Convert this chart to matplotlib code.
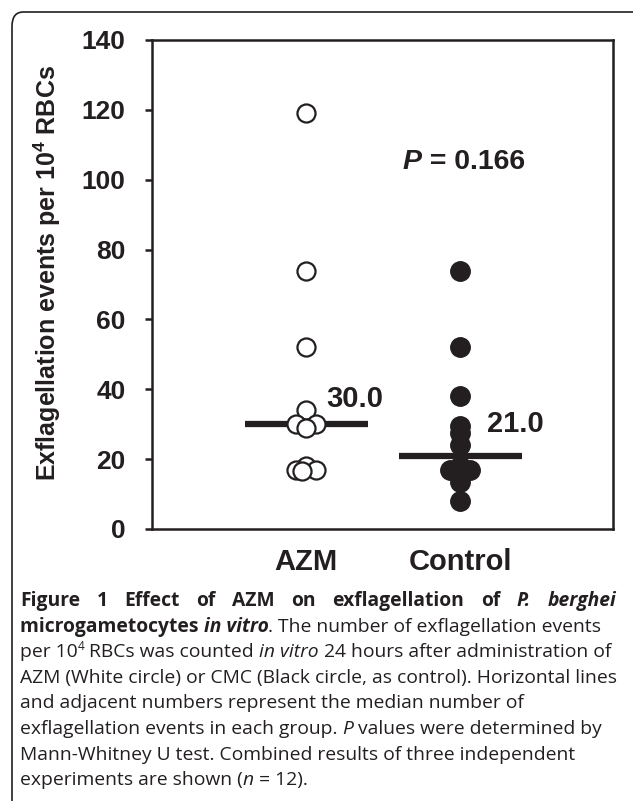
import matplotlib
matplotlib.use('Agg')
import matplotlib.pyplot as plt
from matplotlib.patches import FancyBboxPatch
from matplotlib.font_manager import FontProperties
import numpy as np

# data
groups = ['AZM', 'Control']
azm_values = [119, 74, 52, 30, 34, 30, 30, 29, 18, 17, 17, 16.5]
azm_jitter = [0, 0, 0, 0, 0, -1, 1, 0, 0, -1, 1, -0.4]
ctrl_values = [74, 52, 38, 29.5, 27.5, 24, 18, 17, 17, 16, 13.5, 8]
ctrl_jitter = [0, 0, 0, 0, 0, 0, 0, -1, 1, 0, 0, 0]
p_value = 0.166

INK = '#231f20'
W, H = 633, 801
plt.rcParams['font.family'] = 'Liberation Sans'
plt.rcParams['mathtext.fontset'] = 'custom'
plt.rcParams['mathtext.rm'] = 'Liberation Sans'
plt.rcParams['mathtext.bf'] = 'Liberation Sans:bold'

fig = plt.figure(figsize=(W / 100, H / 100), dpi=100)
ax = fig.add_axes([152 / W, 1 - 529 / H, (613 - 152) / W, (529 - 40) / H])

step = 0.065
ax.plot(np.array(azm_jitter) * step + 0, azm_values, 'o', ms=13, mfc='white',
        mec=INK, mew=1.6, ls='none', zorder=3)
ax.plot(np.array(ctrl_jitter) * step + 1, ctrl_values, 'o', ms=14, mfc=INK,
        mec=INK, mew=1, ls='none', zorder=3)

meds = [np.median(azm_values), np.median(ctrl_values)]
for i, m in enumerate(meds):
    ax.plot([i - 0.4, i + 0.4], [m, m], color=INK, lw=4.5, solid_capstyle='butt', zorder=2)
ax.text(0.13, meds[0] + 7.3, '%.1f' % meds[0], fontsize=21, fontweight='bold',
        color=INK, va='center', ha='left')
ax.text(1.17, meds[1] + 9, '%.1f' % meds[1], fontsize=21, fontweight='bold',
        color=INK, va='center', ha='left')

ax.set_xlim(-1.0, 1.99)
ax.set_ylim(0, 140)
ax.set_yticks(range(0, 141, 20))
ax.set_xticks([0, 1])
ax.set_xticklabels(groups, fontsize=21, fontweight='bold', color=INK)
for lab in ax.get_yticklabels():
    lab.set_fontweight('bold')
ax.tick_params(axis='y', direction='out', length=5, width=1.8, labelsize=19,
               pad=14, colors=INK)
ax.tick_params(axis='x', length=0, pad=14, colors=INK)
for s in ax.spines.values():
    s.set_linewidth(1.8)
    s.set_color(INK)
ax.set_ylabel(r'Exflagellation events per 10$^{\mathbf{4}}$ RBCs', fontsize=18,
              fontweight='bold', color=INK)
ax.yaxis.set_label_coords(-0.193, 0.523)

fig.canvas.draw()
rend = fig.canvas.get_renderer()


def text_w(s, prop):
    w1 = rend.get_text_width_height_descent('|' + s + '|', prop, ismath=False)[0]
    w0 = rend.get_text_width_height_descent('||', prop, ismath=False)[0]
    return w1 - w0


def draw_runs(runs, x, y, size, family, justify_to=None):
    # runs: list of (text, weight, style, sup)
    props = []
    for t, wt, st, sup in runs:
        props.append(FontProperties(family=family, weight=wt, style=st,
                                    size=size * (0.62 if sup else 1)))
    if justify_to is None:
        for (t, wt, st, sup), p in zip(runs, props):
            dy = size * 0.5 if sup else 0
            fig.text(x / W, 1 - (y - dy) / H, t, fontproperties=p, color=INK,
                     va='baseline', ha='left')
            x += text_w(t, p)
        return
    words = []
    for (t, wt, st, sup), p in zip(runs, props):
        for wd in t.split():
            words.append((wd, p))
    total = sum(text_w(wd, p) for wd, p in words)
    gap = (justify_to - x - total) / (len(words) - 1)
    for wd, p in words:
        fig.text(x / W, 1 - y / H, wd, fontproperties=p, color=INK,
                 va='baseline', ha='left')
        x += text_w(wd, p) + gap


# P value annotation (pixel coords)
draw_runs([('P', 'bold', 'italic', False), (' = %.3f' % p_value, 'bold', 'normal', False)],
          403, 169, 20.5, 'Liberation Sans')

N, B, I = 'normal', 'bold', 'italic'
cap = [
    [('Figure 1 Effect of AZM on exflagellation of ', B, N, False), ('P. berghei', B, I, False)],
    [('microgametocytes ', B, N, False), ('in vitro', B, I, False),
     ('. The number of exflagellation events', N, N, False)],
    [('per 10', N, N, False), ('4', N, N, True), (' RBCs was counted ', N, N, False),
     ('in vitro', N, I, False), (' 24 hours after administration of', N, N, False)],
    [('AZM (White circle) or CMC (Black circle, as control). Horizontal lines', N, N, False)],
    [('and adjacent numbers represent the median number of', N, N, False)],
    [('exflagellation events in each group. ', N, N, False), ('P', N, I, False),
     (' values were determined by', N, N, False)],
    [('Mann-Whitney U test. Combined results of three independent', N, N, False)],
    [('experiments are shown (', N, N, False), ('n', N, I, False), (' = 12).', N, N, False)],
]
for i, runs in enumerate(cap):
    draw_runs(runs, 20, 606 + i * 25.6, 13.9, 'Open Sans',
              justify_to=616 if i == 0 else None)

fig.patches.append(FancyBboxPatch((12 / W, -0.05), 1.0, 1 - 12 / H + 0.05,
                                  boxstyle='round,pad=0,rounding_size=0.018',
                                  transform=fig.transFigure, fill=False,
                                  ec=INK, lw=1.2))

fig.savefig('out.png', dpi=100)
